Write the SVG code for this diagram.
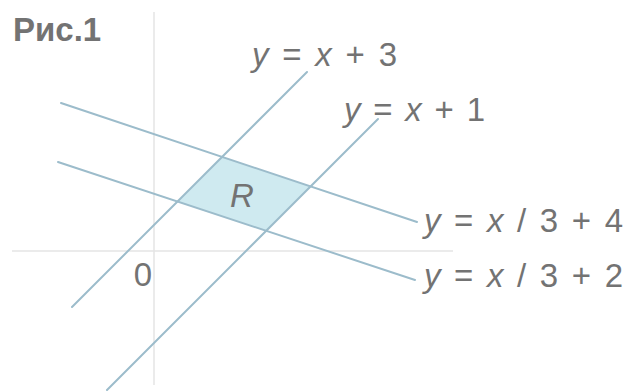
<svg xmlns="http://www.w3.org/2000/svg" width="629" height="391" viewBox="0 0 629 391">
<style>
.axis{stroke:#e4e4e4;stroke-width:1.5;fill:none}
.ln{stroke:#9cbccb;stroke-width:2;fill:none;stroke-linecap:round}
.lbl{font-family:"Liberation Sans",Arial,sans-serif;font-size:33px;fill:#737373}
.it{font-style:italic}
</style>
<rect width="629" height="391" fill="#ffffff"/>
<g id="axes">
<line class="axis" x1="154" y1="12" x2="154" y2="385"/>
<line class="axis" x1="12" y1="251" x2="453" y2="251"/>
</g>
<g id="region-R">
<polygon points="222.1,156.9 310.6,186.4 266.2,230.8 177.5,201.5" fill="#cfeaf0"/>
<text class="lbl it" x="230" y="207" font-size="36">R</text>
</g>
<g id="connectors">
<line class="ln" x1="61" y1="103" x2="417" y2="222"/>
<line class="ln" x1="58" y1="162" x2="415" y2="280"/>
<line class="ln" x1="72" y1="307" x2="307" y2="72"/>
<line class="ln" x1="107" y1="390" x2="378" y2="119"/>
</g>
<g id="label-title">
<text class="lbl" x="13" y="41" font-size="30" font-weight="bold">Рис.1</text>
</g>
<g id="label-origin">
<text class="lbl" x="143" y="286" text-anchor="middle" font-size="34">0</text>
</g>
<g id="label-line1">
<text class="lbl" x="252" y="66" textLength="145" lengthAdjust="spacing"><tspan class="it">y</tspan> = <tspan class="it">x</tspan> + 3</text>
</g>
<g id="label-line2">
<text class="lbl" x="344" y="121" textLength="141" lengthAdjust="spacing"><tspan class="it">y</tspan> = <tspan class="it">x</tspan> + 1</text>
</g>
<g id="label-line3">
<text class="lbl" x="424" y="232" textLength="199" lengthAdjust="spacing"><tspan class="it">y</tspan> = <tspan class="it">x</tspan> / 3 + 4</text>
</g>
<g id="label-line4">
<text class="lbl" x="424" y="287" textLength="199" lengthAdjust="spacing"><tspan class="it">y</tspan> = <tspan class="it">x</tspan> / 3 + 2</text>
</g>
</svg>
